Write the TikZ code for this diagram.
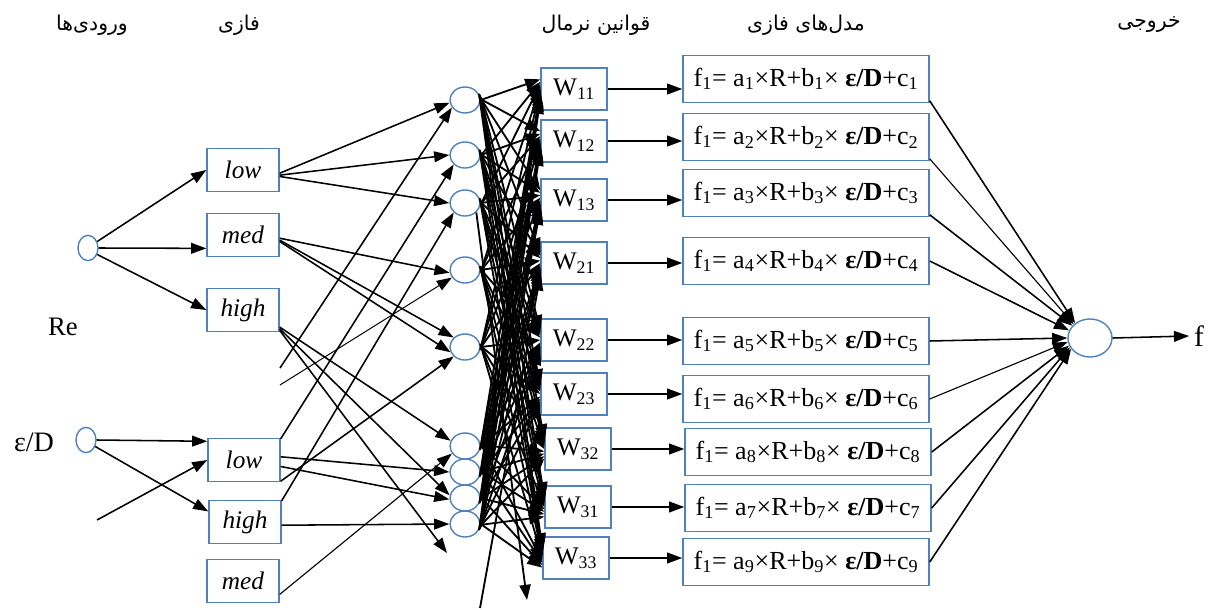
\documentclass[tikz,border=0pt]{standalone}
\usepackage{fontspec}
\setmainfont{Liberation Serif}
\newfontfamily\arabicfont[Script=Arabic]{DejaVu Sans}
\TeXXeTstate=1
\usetikzlibrary{arrows.meta, shapes.geometric, calc}
\definecolor{my_blue}{HTML}{4F81BD}

\tikzset{
    inputnode/.style={ellipse, draw=my_blue, line width=1pt, minimum width=0.5cm, minimum height=0.63cm, inner sep=0pt},
    fuzzybox/.style={draw=my_blue, line width=1pt, minimum width=1.8cm, minimum height=1.07cm, inner sep=0pt, font=\fontsize{18}{20}\selectfont\itshape},
    rulenode/.style={ellipse, draw=my_blue, line width=1pt, minimum width=0.75cm, minimum height=0.65cm, inner sep=0pt},
    normbox/.style={draw=my_blue, line width=1pt, minimum width=1.65cm, minimum height=1.05cm, inner sep=0pt, font=\fontsize{18}{20}\selectfont},
    modelbox/.style={draw=my_blue, line width=1pt, minimum width=6.15cm, minimum height=1.17cm, inner sep=0pt, font=\fontsize{18.5}{20}\selectfont},
    outnode/.style={ellipse, draw=my_blue, line width=1pt, minimum width=1.1cm, minimum height=0.95cm, inner sep=0pt},
    header/.style={font=\arabicfont\fontsize{14.5}{16}\selectfont},
    link/.style={line width=1.1pt, -{Triangle[length=3.8mm, width=2.7mm]}},
    tangle/.style={line width=1.3pt, -{Triangle[length=3.8mm, width=2.8mm]}}
}

\begin{document}
\begin{tikzpicture}[x=0.025cm, y=-0.025cm]

% page frame (pixel grid, y downwards)
\useasboundingbox (0,0) rectangle (1214,610);

% column headers
\node[header] (hIn)    at (92,25)   {\beginR ورودی‌ها\endR};
\node[header] (hFuzzy) at (239,25)  {\beginR فازی\endR};
\node[header] (hNorm)  at (596,25)  {\beginR قوانین نرمال\endR};
\node[header] (hModel) at (806,25)  {\beginR مدل‌های فازی\endR};
\node[header] (hOut)   at (1149,25) {\beginR خروجی\endR};

% inputs
\node[inputnode] (inRe) at (88,248) {};
\node[inputnode] (inED) at (86,440) {};
\node[font=\fontsize{19}{21}\selectfont] (lblRe) at (63,327) {Re};
\node[font=\fontsize{20}{22}\selectfont] (lblED) at (34,442) {ε/D};

% fuzzy sets
\node[fuzzybox] (reLow)  at (243,170) {low};
\node[fuzzybox] (reMed)  at (243,235) {med};
\node[fuzzybox] (reHigh) at (243,310) {high};
\node[fuzzybox] (edLow)  at (244,460) {low};
\node[fuzzybox] (edHigh) at (245,522) {high};
\node[fuzzybox] (edMed)  at (243,581) {med};

% rule nodes
\node[rulenode] (r1) at (465,100) {};
\node[rulenode] (r2) at (465,155) {};
\node[rulenode] (r3) at (465,203) {};
\node[rulenode] (r4) at (465,270) {};
\node[rulenode] (r5) at (465,347) {};
\node[rulenode] (r6) at (465,446) {};
\node[rulenode] (r7) at (465,472) {};
\node[rulenode] (r8) at (465,498) {};
\node[rulenode] (r9) at (465,524) {};

% normalised rules
\node[normbox] (n1) at (574,89)  {W\textsubscript{11}};
\node[normbox] (n2) at (574,141) {W\textsubscript{12}};
\node[normbox] (n3) at (574,200) {W\textsubscript{13}};
\node[normbox] (n4) at (574,263) {W\textsubscript{21}};
\node[normbox] (n5) at (574,340) {W\textsubscript{22}};
\node[normbox] (n6) at (574,394) {W\textsubscript{23}};
\node[normbox] (n7) at (578,449) {W\textsubscript{32}};
\node[normbox] (n8) at (578,507) {W\textsubscript{31}};
\node[normbox] (n9) at (576,558) {W\textsubscript{33}};

% fuzzy models
\node[modelbox] (m1) at (806,79)  {f\textsubscript{1}= a\textsubscript{1}×R+b\textsubscript{1}× \textbf{ε/D}+c\textsubscript{1}};
\node[modelbox] (m2) at (806,137) {f\textsubscript{1}= a\textsubscript{2}×R+b\textsubscript{2}× \textbf{ε/D}+c\textsubscript{2}};
\node[modelbox] (m3) at (806,193) {f\textsubscript{1}= a\textsubscript{3}×R+b\textsubscript{3}× \textbf{ε/D}+c\textsubscript{3}};
\node[modelbox] (m4) at (806,261) {f\textsubscript{1}= a\textsubscript{4}×R+b\textsubscript{4}× \textbf{ε/D}+c\textsubscript{4}};
\node[modelbox] (m5) at (806,341) {f\textsubscript{1}= a\textsubscript{5}×R+b\textsubscript{5}× \textbf{ε/D}+c\textsubscript{5}};
\node[modelbox] (m6) at (806,399) {f\textsubscript{1}= a\textsubscript{6}×R+b\textsubscript{6}× \textbf{ε/D}+c\textsubscript{6}};
\node[modelbox] (m7) at (808,452) {f\textsubscript{1}= a\textsubscript{8}×R+b\textsubscript{8}× \textbf{ε/D}+c\textsubscript{8}};
\node[modelbox] (m8) at (808,508) {f\textsubscript{1}= a\textsubscript{7}×R+b\textsubscript{7}× \textbf{ε/D}+c\textsubscript{7}};
\node[modelbox] (m9) at (806,562) {f\textsubscript{1}= a\textsubscript{9}×R+b\textsubscript{9}× \textbf{ε/D}+c\textsubscript{9}};

% output
\node[outnode] (out) at (1090,338) {};
\node[font=\fontsize{21}{23}\selectfont] (fOut) at (1199,336) {f};

% loose line ends
\coordinate (fS1) at (280,368);
\coordinate (fS2) at (280,385);
\coordinate (fS3) at (97,520);
\coordinate (fA)  at (447,553);
\coordinate (fB1) at (480,608);
\coordinate (fB2) at (527,600);

% inputs -> fuzzy sets
\draw[link] (inRe.35) -- (reLow.west);
\draw[link] (inRe.east) -- (reMed.200);
\draw[link] (inRe.-35) -- (reHigh.west);
\draw[link] (inED.east) -- (edLow.153);
\draw[link] (inED.-35) -- (edHigh.164);
\draw[link] (fS3) -- (edLow.west);

% fuzzy sets -> rules
\draw[link] (reLow.-5) -- (r1.190);
\draw[link] (reLow.-8) -- (r2.west);
\draw[link] (reLow.-10) -- (r3.west);
\draw[link] (reMed.-5) -- (r4.190);
\draw[link] (reMed.-8) -- (r5.140);
\draw[link] (reMed.-10) -- (r5.200);
\draw[link] (reHigh.-25) -- (r6.160);
\draw[link] (reHigh.-27) -- (r8.170);
\draw[link] (reHigh.-29) -- (fA);
\draw[link] (fS1) -- (r1.210);
\draw[link, line width=0.7pt] (fS2) -- (r4.210);
\draw[link] (edLow.30) -- (r2.220);
\draw[link] (edLow.5) -- (r7.west);
\draw[link] (edLow.-10) -- (r8.185);
\draw[link] (edLow.-30) -- (r5.220);
\draw[link] (edHigh.30) -- (r3.220);
\draw[link] (edHigh.-5) -- (r9.west);
\draw[link, line width=0.8pt] (edMed.-20) -- (r6.210);

% rules -> normalised rules (every pair)
\foreach \i in {1,...,9}
    \foreach \j in {1,...,9}
        \draw[tangle] (r\i.{(\j-\i)*3}) -- (n\j.{180-(5-\i)*4});
\draw[tangle] (fB1) -- (n4.200);
\draw[tangle] (r3.-40) -- (fB2);

% normalised rules -> models -> output
\foreach \i in {1,...,9}
    \draw[link] (n\i.east) -- (n\i.east -| m\i.west);
\draw[link] (m1.-10) -- (out.135);
\draw[link, line width=0.8pt] (m2.-10) -- (out.140);
\draw[link] (m3.-10) -- (out.145);
\draw[link] (m4.east) -- (out.160);
\draw[link] (m5.east) -- (out.west);
\draw[link, line width=0.8pt] (m6.east) -- (out.190);
\draw[link] (m7.east) -- (out.200);
\draw[link] (m8.east) -- (out.205);
\draw[link] (m9.east) -- (out.210);
\draw[link] (out.east) -- (fOut.west);

\end{tikzpicture}
\end{document}
